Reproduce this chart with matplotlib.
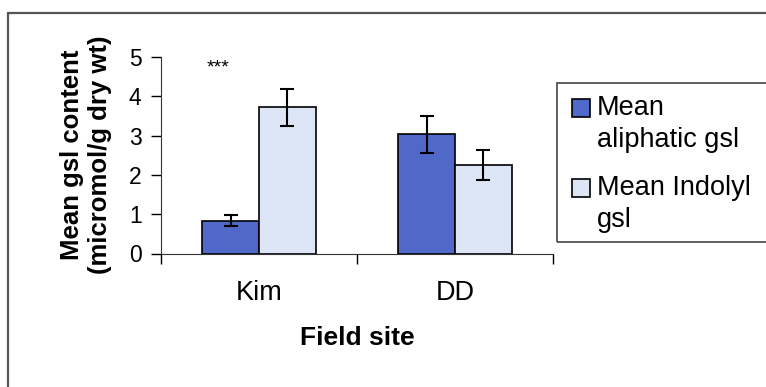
import numpy as np
import matplotlib
matplotlib.use("Agg")
import matplotlib.pyplot as plt
from matplotlib.patches import Rectangle

plt.rcParams['font.family'] = ['Liberation Sans', 'DejaVu Sans']

# glucosinolate content per field site
sites = ['Kim', 'DD']
aliphatic = [0.83, 3.03]
aliphatic_err = [0.14, 0.47]
indolyl = [3.72, 2.25]
indolyl_err = [0.47, 0.38]
series_names = ['Mean\naliphatic gsl', 'Mean Indolyl\ngsl']
signif = ['***', '']
signif_y = 4.72

col_ali = '#5068c8'
col_ind = '#dde6f6'

fig = plt.figure(figsize=(7.66, 3.87), dpi=100)
ax = fig.add_axes([161/766, 1 - 253.5/387, 392/766, 196.5/387])

x = np.arange(len(sites))
w = 0.29
ax.bar(x - w/2, aliphatic, w, color=col_ali, edgecolor='black', linewidth=1.2,
       yerr=aliphatic_err, capsize=5, error_kw=dict(elinewidth=1.5, capthick=1.5, ecolor='black'))
ax.bar(x + w/2, indolyl, w, color=col_ind, edgecolor='black', linewidth=1.2,
       yerr=indolyl_err, capsize=5, error_kw=dict(elinewidth=1.5, capthick=1.5, ecolor='black'))

for xi, s in zip(x, signif):
    if s:
        ax.text(xi - 0.21, signif_y, s, ha='center', va='center', fontsize=14)

ax.set_xlim(-0.5, len(sites) - 0.5)
ax.set_ylim(0, 5)
ax.set_yticks(range(6))
ax.tick_params(axis='y', direction='out', length=7, width=1, labelsize=16.5, pad=7)
ax.set_xticks(x)
ax.set_xticklabels(sites)
ax.tick_params(axis='x', which='major', length=0, labelsize=19.5, pad=19)
ax.set_xticks(np.arange(-0.5, len(sites)), minor=True)
ax.tick_params(axis='x', which='minor', direction='out', length=7, width=1)
for side in ['top', 'right']:
    ax.spines[side].set_visible(False)
ax.spines['left'].set_color('#333333')
ax.spines['bottom'].set_color('#333333')

fig.text(357/766, 1 - 338/387, 'Field site', ha='center', va='center',
         fontsize=19, fontweight='bold')
fig.text(86/766, 1 - 155/387, 'Mean gsl content\n(micromol/g dry wt)', rotation=90,
         ha='center', va='center', ma='center', fontsize=18.5, fontweight='bold',
         linespacing=1.25)

# legend box, drawn by hand so the swatch sits on the first text line
fig.patches.append(Rectangle((557/766, 1 - 242/387), 215/766, 159/387,
                             transform=fig.transFigure, fill=False,
                             edgecolor='#444444', linewidth=1.2))
leg_y = [108, 188]
for ly, col, name in zip(leg_y, [col_ali, col_ind], series_names):
    fig.patches.append(Rectangle((572/766, 1 - (ly + 9)/387), 18/766, 18/387,
                                 transform=fig.transFigure, facecolor=col,
                                 edgecolor='black', linewidth=1.2))
    fig.text(597/766, 1 - (ly - 13)/387, name, ha='left', va='top',
             fontsize=19.5, linespacing=1.3)

# outer chart frame
fig.patches.append(Rectangle((8/766, -0.1), 1.2, 1 - 13/387 + 0.1,
                             transform=fig.transFigure, fill=False,
                             edgecolor='#555555', linewidth=1.6))

fig.savefig('out.png', dpi=100)
